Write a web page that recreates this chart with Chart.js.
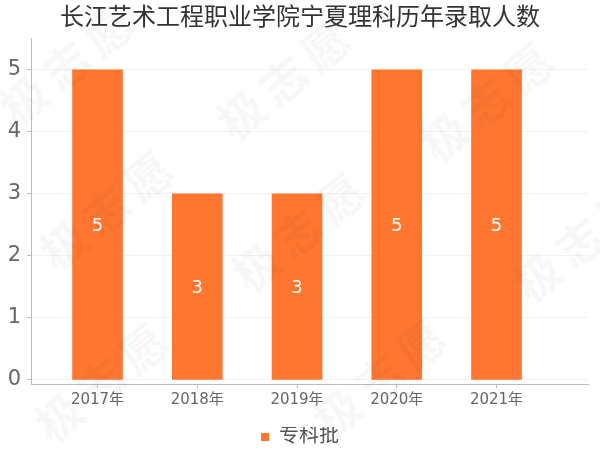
<!DOCTYPE html>
<html>
<head>
<meta charset="utf-8">
<script src="https://cdn.jsdelivr.net/npm/chart.js@4"></script>
<style>
html,body{margin:0;padding:0;background:#fff;}
#wrap{width:600px;height:450px;position:relative;}
</style>
</head>
<body>
<div id="wrap"><canvas id="c" width="600" height="450"></canvas></div>
<script>
const titleText = '长江艺术工程职业学院宁夏理科历年录取人数';
const categories = ['2017年', '2018年', '2019年', '2020年', '2021年'];
const seriesName = '专科批';
const values = [5, 3, 3, 5, 5];
const watermarkText = '极志愿';

const FONT = "'DejaVu Sans', 'Noto Sans CJK SC', sans-serif";
const ORANGE = '#fe7630';

const watermark = {
  id: 'watermark',
  afterDatasetsDraw(chart) {
    const ctx = chart.ctx;
    const spots = [[70,70],[287,85],[490,107],[110,215],[302,237],[583,247],[105,387],[383,383]];
    ctx.save();
    ctx.fillStyle = 'rgba(0,0,0,0.03)';
    ctx.font = 'bold 46px ' + FONT;
    ctx.textAlign = 'center';
    ctx.textBaseline = 'middle';
    spots.forEach(([x, y]) => {
      ctx.save();
      ctx.translate(x, y);
      ctx.rotate(-39 * Math.PI / 180);
      Array.from(watermarkText).forEach((ch, i) => {
        ctx.fillText(ch, (i - 1) * 54, 0);
      });
      ctx.restore();
    });
    ctx.restore();
  }
};

const barLabels = {
  id: 'barLabels',
  afterDatasetsDraw(chart) {
    const ctx = chart.ctx;
    const meta = chart.getDatasetMeta(0);
    ctx.save();
    ctx.fillStyle = '#ffffff';
    ctx.font = '18px ' + FONT;
    ctx.textAlign = 'center';
    ctx.textBaseline = 'middle';
    meta.data.forEach((el, i) => {
      const p = el.getProps(['x', 'y', 'base'], true);
      ctx.fillText(String(values[i]), p.x, (p.y + p.base) / 2 + 2);
    });
    ctx.restore();
  }
};

new Chart(document.getElementById('c'), {
  type: 'bar',
  data: {
    datasets: [{
      label: seriesName,
      data: values.map((v, i) => ({x: i, y: v})),
      backgroundColor: ORANGE,
      borderWidth: 0,
      barThickness: 50
    }]
  },
  options: {
    responsive: false,
    animation: false,
    devicePixelRatio: 1,
    layout: {padding: {left: 0, right: 0, top: 0, bottom: -7}},
    plugins: {
      title: {
        display: true,
        text: titleText,
        color: '#333333',
        font: {family: FONT, size: 24, weight: 'normal'},
        padding: {top: 4, bottom: 6}
      },
      legend: {
        display: true,
        position: 'bottom',
        labels: {
          boxWidth: 8,
          boxHeight: 8,
          padding: 0,
          color: '#555555',
          font: {family: FONT, size: 20}
        }
      },
      tooltip: {enabled: false}
    },
    scales: {
      x: {
        type: 'linear',
        offset: false,
        min: -0.667,
        max: 4.917,
        afterFit(s) { s.height = 43; s.paddingRight = 12; },
        border: {display: true, color: '#bbbbbb', width: 1},
        grid: {display: true, offset: false, drawOnChartArea: false, drawTicks: true, tickLength: 4, tickColor: '#bbbbbb'},
        ticks: {
          stepSize: 1,
          includeBounds: false,
          autoSkip: false,
          maxRotation: 0,
          padding: 3,
          color: '#666666',
          font: {family: FONT, size: 15},
          callback: (v) => (Number.isInteger(v) && categories[v] !== undefined) ? categories[v] : ''
        }
      },
      y: {
        min: -0.065,
        max: 5.5,
        afterFit(s) { s.width = 31; },
        border: {display: true, color: '#bbbbbb', width: 1},
        grid: {color: '#f2f2f2', drawTicks: true, tickLength: 4, tickColor: '#bbbbbb'},
        ticks: {
          stepSize: 1,
          includeBounds: false,
          padding: 6,
          color: '#666666',
          font: {family: FONT, size: 21}
        }
      }
    }
  },
  plugins: [barLabels, watermark]
});
</script>
</body>
</html>
